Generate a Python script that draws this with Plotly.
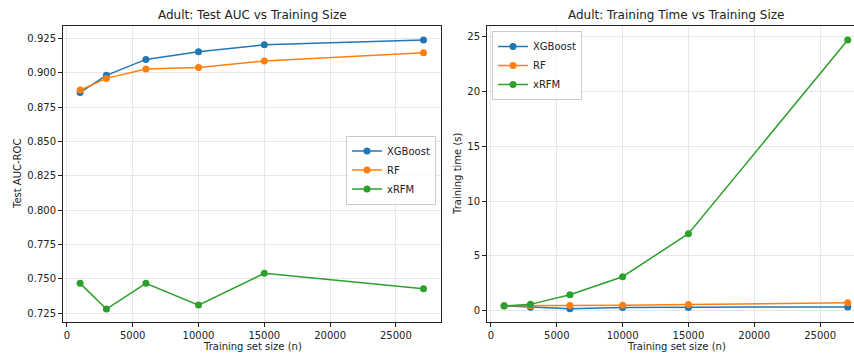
import plotly.graph_objects as go

# ---- data ----
train_sizes = [1000, 3000, 6000, 10000, 15000, 27100]
auc_xgb = [0.8857, 0.8981, 0.9097, 0.9153, 0.9203, 0.9238]
auc_rf = [0.8874, 0.8959, 0.9027, 0.9039, 0.9085, 0.9145]
auc_xrfm = [0.7468, 0.7281, 0.7468, 0.7310, 0.7541, 0.7429]
time_xgb = [0.45, 0.32, 0.18, 0.30, 0.30, 0.35]
time_rf = [0.45, 0.45, 0.48, 0.50, 0.56, 0.72]
time_xrfm = [0.43, 0.58, 1.46, 3.10, 7.03, 24.70]
series_names = ["XGBoost", "RF", "xRFM"]
colors = ["#1f77b4", "#ff7f0e", "#2ca02c"]
x_ticks = [0, 5000, 10000, 15000, 20000, 25000]
auc_ticks = [0.725, 0.750, 0.775, 0.800, 0.825, 0.850, 0.875, 0.900, 0.925]
time_ticks = [0, 5, 10, 15, 20, 25]

W, H = 854, 354
FONT = "DejaVu Sans"

def px_x(p):
    return p / W

def px_y(p):
    return 1 - p / H

fig = go.Figure()

for name, col, ys in zip(series_names, colors, [auc_xgb, auc_rf, auc_xrfm]):
    fig.add_trace(go.Scatter(
        x=train_sizes, y=ys, name=name, mode="lines+markers",
        line=dict(color=col, width=1.5), marker=dict(color=col, size=7),
        xaxis="x", yaxis="y", legend="legend"))

for name, col, ys in zip(series_names, colors, [time_xgb, time_rf, time_xrfm]):
    fig.add_trace(go.Scatter(
        x=train_sizes, y=ys, name=name, mode="lines+markers",
        line=dict(color=col, width=1.5), marker=dict(color=col, size=7),
        xaxis="x2", yaxis="y2", legend="legend2"))

y_dom = [px_y(322), px_y(26)]

common_axis = dict(
    showline=True, linecolor="#222", linewidth=1,
    ticks="outside", ticklen=4, tickwidth=1, tickcolor="#222",
    showgrid=True, gridcolor="#e6e6e6", gridwidth=1,
    zeroline=False, tickfont=dict(family=FONT, size=10, color="#222"),
)

legend_style = dict(
    bgcolor="rgba(255,255,255,0.8)", bordercolor="#cccccc", borderwidth=1,
    font=dict(family=FONT, size=10, color="#222"), tracegroupgap=0,
    itemwidth=30,
)

fig.update_layout(
    width=W, height=H,
    margin=dict(l=0, r=0, t=0, b=0),
    paper_bgcolor="white", plot_bgcolor="white",
    font=dict(family=FONT, size=10, color="#222"),
    xaxis=dict(domain=[px_x(63), px_x(441)], range=[-300, 28430],
               tickvals=x_ticks, tickformat="d", mirror=True, anchor="y",
               **common_axis),
    yaxis=dict(domain=y_dom, range=[0.7187, 0.9340], tickvals=auc_ticks,
               tickformat=".3f", mirror=True, anchor="x", **common_axis),
    xaxis2=dict(domain=[px_x(487), 1.0], range=[-300, 27576],
                tickvals=x_ticks, tickformat="d", mirror=True, anchor="y2",
                **common_axis),
    yaxis2=dict(domain=y_dom, range=[-1.03, 25.98], tickvals=time_ticks,
                mirror=False, anchor="x2", **common_axis),
    legend=dict(x=px_x(436), xanchor="right", y=px_y(170), yanchor="middle",
                **legend_style),
    legend2=dict(x=px_x(492), xanchor="left", y=px_y(31), yanchor="top",
                 **legend_style),
    showlegend=True,
)

annotations = [
    dict(text="Adult: Test AUC vs Training Size", x=px_x(252), y=px_y(15),
         font=dict(size=12)),
    dict(text="Adult: Training Time vs Training Size", x=px_x(676), y=px_y(15),
         font=dict(size=12)),
    dict(text="Training set size (n)", x=px_x(252), y=px_y(346), font=dict(size=10)),
    dict(text="Training set size (n)", x=px_x(676), y=px_y(346), font=dict(size=10)),
    dict(text="Test AUC-ROC", x=px_x(17), y=px_y(174), textangle=-90, font=dict(size=10)),
    dict(text="Training time (s)", x=px_x(457), y=px_y(174), textangle=-90, font=dict(size=10)),
]
for a in annotations:
    fig.add_annotation(xref="paper", yref="paper", showarrow=False,
                       xanchor="center", yanchor="middle",
                       font_family=FONT, font_color="#222", **a)

fig.write_html(
    "out.html",
    config={"displayModeBar": False},
    post_script="document.body.style.margin='0';document.body.style.overflow='hidden';",
)
